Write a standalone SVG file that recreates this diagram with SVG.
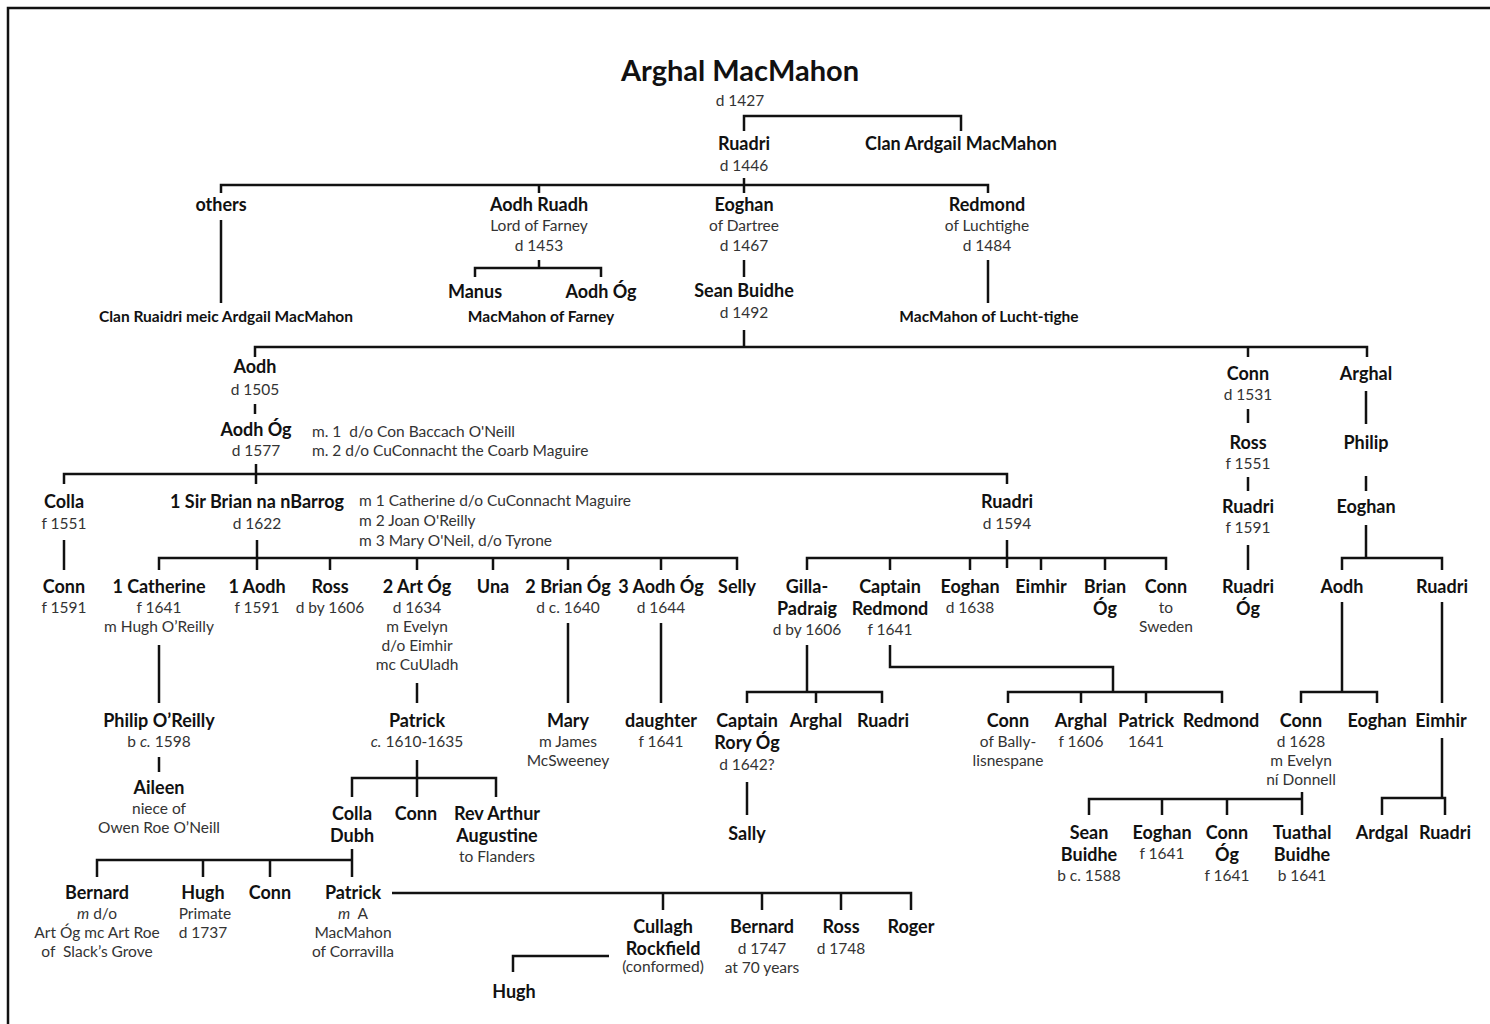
<svg xmlns="http://www.w3.org/2000/svg" width="1490" height="1024" viewBox="0 0 1490 1024">
  <style>
    text { font-family: Lato, "Open Sans", "Liberation Sans", sans-serif; text-anchor: middle; }
    .t { font-size: 29px; font-weight: bold; fill: #111; }
    .n { font-size: 18px; font-weight: bold; fill: #111; }
    .d { font-size: 15.5px; fill: #333; }
    .s { font-size: 15.5px; font-weight: bold; fill: #111; }
    .l { text-anchor: start; }
    .i { font-style: italic; }
    .c { fill: none; stroke: #111; stroke-width: 2.5; }
  </style>

  <!-- frame -->
  <rect x="8" y="8" width="1500" height="1030" fill="#fff" stroke="#111" stroke-width="2.5"/>

  <g id="connectors" class="c">
    <path d="M744,131 V116 H961 V131"/>
    <path d="M221,193 V185 H988 V193 M539,185 V193 M744,178 V193"/>
    <path d="M221,220 V303"/>
    <path d="M539,260 V268 M475,277 V268 H601 V277"/>
    <path d="M744,260 V277"/>
    <path d="M988,260 V303"/>
    <path d="M744,330 V347 M255,357 V347 H1367 V357 M1248,347 V357"/>
    <path d="M255,404 V414"/>
    <path d="M256,464 V484 M64,484 V474 H1007 V484"/>
    <path d="M64,540 V570"/>
    <path d="M257,540 V570 M159,570 V558 H737 V570 M330,558 V570 M417,558 V570 M493,558 V570 M568,558 V570 M661,558 V570"/>
    <path d="M159,645 V703"/>
    <path d="M159,757 V772"/>
    <path d="M417,683 V703"/>
    <path d="M417,760 V797 M352,797 V778 H496 V797"/>
    <path d="M352,849 V877 M97,877 V860 H352 M203,860 V877 M270,860 V877"/>
    <path d="M392,893 H911 V910 M663,893 V910 M762,893 V910 M841,893 V910"/>
    <path d="M609,956 H513 V972"/>
    <path d="M568,623 V703 M661,623 V703"/>
    <path d="M1007,540 V568 M807,570 V558 H1166 V570 M890,558 V570 M970,558 V570 M1041,558 V570 M1105,558 V570"/>
    <path d="M807,645 V692 M747,703 V692 H882 V703 M816,692 V703"/>
    <path d="M747,782 V815"/>
    <path d="M890,645 V667 H1113 V692 M1008,703 V692 H1222 V703 M1081,692 V703 M1146,692 V703"/>
    <path d="M1248,409 V423 M1248,477 V491 M1248,545 V570"/>
    <path d="M1366,391 V424 M1366,476 V491 M1366,525 V558 M1342,570 V558 H1442 V570"/>
    <path d="M1342,602 V692 M1301,703 V692 H1377 V703"/>
    <path d="M1442,602 V703"/>
    <path d="M1442,738 V798 M1382,815 V798 H1445 V815"/>
    <path d="M1302,792 V815 M1089,815 V799 H1302 M1162,799 V815 M1227,799 V815"/>
  </g>

  <g id="arghal-macmahon"><text class="t" x="740" y="81">Arghal MacMahon</text><text class="d" x="740" y="106">d 1427</text></g>
  <g id="ruadri-1446"><text class="n" x="744" y="150">Ruadri</text><text class="d" x="744" y="171">d 1446</text></g>
  <g id="clan-ardgail"><text class="n" x="961" y="150">Clan Ardgail MacMahon</text></g>

  <g id="others"><text class="n" x="221" y="211">others</text></g>
  <g id="clan-ruaidri"><text class="s" x="226" y="322">Clan Ruaidri meic Ardgail MacMahon</text></g>
  <g id="aodh-ruadh"><text class="n" x="539" y="211">Aodh Ruadh</text><text class="d" x="539" y="231">Lord of Farney</text><text class="d" x="539" y="251">d 1453</text></g>
  <g id="manus"><text class="n" x="475" y="298">Manus</text></g>
  <g id="aodh-og-farney"><text class="n" x="601" y="298">Aodh Óg</text></g>
  <g id="macmahon-farney"><text class="s" x="541" y="322">MacMahon of Farney</text></g>
  <g id="eoghan-dartree"><text class="n" x="744" y="211">Eoghan</text><text class="d" x="744" y="231">of Dartree</text><text class="d" x="744" y="251">d 1467</text></g>
  <g id="sean-buidhe"><text class="n" x="744" y="297">Sean Buidhe</text><text class="d" x="744" y="318">d 1492</text></g>
  <g id="redmond-luchtighe"><text class="n" x="987" y="211">Redmond</text><text class="d" x="987" y="231">of Luchtighe</text><text class="d" x="987" y="251">d 1484</text></g>
  <g id="macmahon-lucht-tighe"><text class="s" x="989" y="322">MacMahon of Lucht-tighe</text></g>

  <g id="aodh-1505"><text class="n" x="255" y="373">Aodh</text><text class="d" x="255" y="395">d 1505</text></g>
  <g id="aodh-og-1577"><text class="n" x="256" y="436">Aodh Óg</text><text class="d" x="256" y="456">d 1577</text>
    <text class="d l" x="312" y="437">m. 1 &#160;d/o Con Baccach O'Neill</text><text class="d l" x="312" y="456">m. 2 d/o CuConnacht the Coarb Maguire</text></g>

  <g id="colla-1551"><text class="n" x="64" y="508">Colla</text><text class="d" x="64" y="529">f 1551</text></g>
  <g id="conn-1591"><text class="n" x="64" y="593">Conn</text><text class="d" x="64" y="613">f 1591</text></g>
  <g id="sir-brian"><text class="n" x="257" y="508">1 Sir Brian na nBarrog</text><text class="d" x="257" y="529">d 1622</text>
    <text class="d l" x="359" y="506">m 1 Catherine d/o CuConnacht Maguire</text><text class="d l" x="359" y="526">m 2 Joan O'Reilly</text><text class="d l" x="359" y="546">m 3 Mary O'Neil, d/o Tyrone</text></g>

  <g id="catherine"><text class="n" x="159" y="593">1 Catherine</text><text class="d" x="159" y="613">f 1641</text><text class="d" x="159" y="632">m Hugh O’Reilly</text></g>
  <g id="aodh-1591"><text class="n" x="257" y="593">1 Aodh</text><text class="d" x="257" y="613">f 1591</text></g>
  <g id="ross-1606"><text class="n" x="330" y="593">Ross</text><text class="d" x="330" y="613">d by 1606</text></g>
  <g id="art-og"><text class="n" x="417" y="593">2 Art Óg</text><text class="d" x="417" y="613">d 1634</text><text class="d" x="417" y="632">m Evelyn</text><text class="d" x="417" y="651">d/o Eimhir</text><text class="d" x="417" y="670">mc CuUladh</text></g>
  <g id="una"><text class="n" x="493" y="593">Una</text></g>
  <g id="brian-og"><text class="n" x="568" y="593">2 Brian Óg</text><text class="d" x="568" y="613">d c. 1640</text></g>
  <g id="aodh-og-1644"><text class="n" x="661" y="593">3 Aodh Óg</text><text class="d" x="661" y="613">d 1644</text></g>
  <g id="selly"><text class="n" x="737" y="593">Selly</text></g>

  <g id="philip-oreilly"><text class="n" x="159" y="727">Philip O’Reilly</text><text class="d" x="159" y="747">b <tspan class="i">c.</tspan> 1598</text></g>
  <g id="aileen"><text class="n" x="159" y="794">Aileen</text><text class="d" x="159" y="814">niece of</text><text class="d" x="159" y="833">Owen Roe O’Neill</text></g>
  <g id="patrick-1610"><text class="n" x="417" y="727">Patrick</text><text class="d" x="417" y="747"><tspan class="i">c.</tspan> 1610-1635</text></g>
  <g id="colla-dubh"><text class="n" x="352" y="820">Colla</text><text class="n" x="352" y="842">Dubh</text></g>
  <g id="conn-patrick"><text class="n" x="416" y="820">Conn</text></g>
  <g id="rev-arthur"><text class="n" x="497" y="820">Rev Arthur</text><text class="n" x="497" y="842">Augustine</text><text class="d" x="497" y="862">to Flanders</text></g>

  <g id="bernard-slack"><text class="n" x="97" y="899">Bernard</text><text class="d" x="97" y="919"><tspan class="i">m</tspan> d/o</text><text class="d" x="97" y="938">Art Óg mc Art Roe</text><text class="d" x="97" y="957">of &#160;Slack’s Grove</text></g>
  <g id="hugh-primate"><text class="n" x="203" y="899">Hugh</text><text class="d" x="205" y="919">Primate</text><text class="d" x="203" y="938">d 1737</text></g>
  <g id="conn-colla"><text class="n" x="270" y="899">Conn</text></g>
  <g id="patrick-corravilla"><text class="n" x="353" y="899">Patrick</text><text class="d" x="353" y="919"><tspan class="i">m</tspan> &#160;A</text><text class="d" x="353" y="938">MacMahon</text><text class="d" x="353" y="957">of Corravilla</text></g>

  <g id="cullagh"><text class="n" x="663" y="933">Cullagh</text><text class="n" x="663" y="955">Rockfield</text><text class="d" x="663" y="972">(conformed)</text></g>
  <g id="bernard-1747"><text class="n" x="762" y="933">Bernard</text><text class="d" x="762" y="954">d 1747</text><text class="d" x="762" y="973">at 70 years</text></g>
  <g id="ross-1748"><text class="n" x="841" y="933">Ross</text><text class="d" x="841" y="954">d 1748</text></g>
  <g id="roger"><text class="n" x="911" y="933">Roger</text></g>
  <g id="hugh"><text class="n" x="514" y="998">Hugh</text></g>

  <g id="mary"><text class="n" x="568" y="727">Mary</text><text class="d" x="568" y="747">m James</text><text class="d" x="568" y="766">McSweeney</text></g>
  <g id="daughter"><text class="n" x="661" y="727">daughter</text><text class="d" x="661" y="747">f 1641</text></g>

  <g id="ruadri-1594"><text class="n" x="1007" y="508">Ruadri</text><text class="d" x="1007" y="529">d 1594</text></g>
  <g id="gilla-padraig"><text class="n" x="807" y="593">Gilla-</text><text class="n" x="807" y="615">Padraig</text><text class="d" x="807" y="635">d by 1606</text></g>
  <g id="captain-redmond"><text class="n" x="890" y="593">Captain</text><text class="n" x="890" y="615">Redmond</text><text class="d" x="890" y="635">f 1641</text></g>
  <g id="eoghan-1638"><text class="n" x="970" y="593">Eoghan</text><text class="d" x="970" y="613">d 1638</text></g>
  <g id="eimhir-1594"><text class="n" x="1041" y="593">Eimhir</text></g>
  <g id="brian-og-1594"><text class="n" x="1105" y="593">Brian</text><text class="n" x="1105" y="615">Óg</text></g>
  <g id="conn-sweden"><text class="n" x="1166" y="593">Conn</text><text class="d" x="1166" y="613">to</text><text class="d" x="1166" y="632">Sweden</text></g>

  <g id="captain-rory-og"><text class="n" x="747" y="727">Captain</text><text class="n" x="747" y="749">Rory Óg</text><text class="d" x="747" y="770">d 1642?</text></g>
  <g id="arghal-gilla"><text class="n" x="816" y="727">Arghal</text></g>
  <g id="ruadri-gilla"><text class="n" x="883" y="727">Ruadri</text></g>
  <g id="sally"><text class="n" x="747" y="840">Sally</text></g>

  <g id="conn-ballylisnespane"><text class="n" x="1008" y="727">Conn</text><text class="d" x="1008" y="747">of Bally-</text><text class="d" x="1008" y="766">lisnespane</text></g>
  <g id="arghal-1606"><text class="n" x="1081" y="727">Arghal</text><text class="d" x="1081" y="747">f 1606</text></g>
  <g id="patrick-1641"><text class="n" x="1146" y="727">Patrick</text><text class="d" x="1146" y="747">1641</text></g>
  <g id="redmond-1641"><text class="n" x="1221" y="727">Redmond</text></g>

  <g id="conn-1531"><text class="n" x="1248" y="380">Conn</text><text class="d" x="1248" y="400">d 1531</text></g>
  <g id="ross-1551"><text class="n" x="1248" y="449">Ross</text><text class="d" x="1248" y="469">f 1551</text></g>
  <g id="ruadri-1591"><text class="n" x="1248" y="513">Ruadri</text><text class="d" x="1248" y="533">f 1591</text></g>
  <g id="ruadri-og"><text class="n" x="1248" y="593">Ruadri</text><text class="n" x="1248" y="615">Óg</text></g>

  <g id="arghal-right"><text class="n" x="1366" y="380">Arghal</text></g>
  <g id="philip"><text class="n" x="1366" y="449">Philip</text></g>
  <g id="eoghan-right"><text class="n" x="1366" y="513">Eoghan</text></g>
  <g id="aodh-right"><text class="n" x="1342" y="593">Aodh</text></g>
  <g id="ruadri-right"><text class="n" x="1442" y="593">Ruadri</text></g>
  <g id="conn-1628"><text class="n" x="1301" y="727">Conn</text><text class="d" x="1301" y="747">d 1628</text><text class="d" x="1301" y="766">m Evelyn</text><text class="d" x="1301" y="785">ní Donnell</text></g>
  <g id="eoghan-aodh"><text class="n" x="1377" y="727">Eoghan</text></g>
  <g id="eimhir-right"><text class="n" x="1441" y="727">Eimhir</text></g>
  <g id="ardgal"><text class="n" x="1382" y="839">Ardgal</text></g>
  <g id="ruadri-eimhir"><text class="n" x="1445" y="839">Ruadri</text></g>

  <g id="sean-buidhe-1588"><text class="n" x="1089" y="839">Sean</text><text class="n" x="1089" y="861">Buidhe</text><text class="d" x="1089" y="881">b c. 1588</text></g>
  <g id="eoghan-1641"><text class="n" x="1162" y="839">Eoghan</text><text class="d" x="1162" y="859">f 1641</text></g>
  <g id="conn-og"><text class="n" x="1227" y="839">Conn</text><text class="n" x="1227" y="861">Óg</text><text class="d" x="1227" y="881">f 1641</text></g>
  <g id="tuathal-buidhe"><text class="n" x="1302" y="839">Tuathal</text><text class="n" x="1302" y="861">Buidhe</text><text class="d" x="1302" y="881">b 1641</text></g>
</svg>
